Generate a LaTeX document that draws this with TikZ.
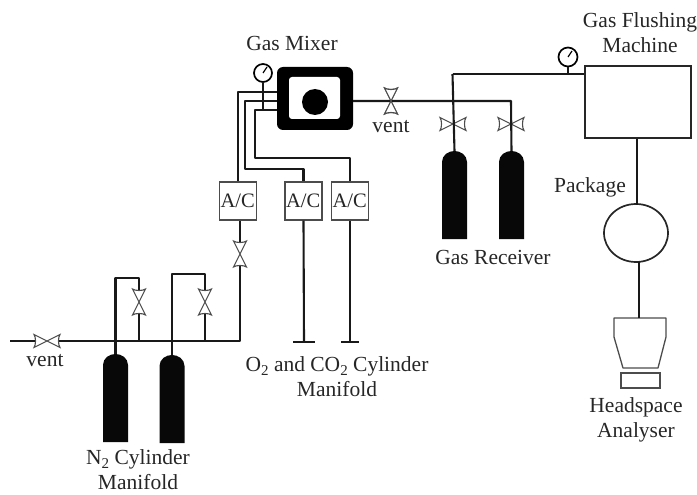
\documentclass[tikz,border=0pt]{standalone}
\usepackage{fontspec}
\setmainfont{Liberation Serif}
\usepackage{tikz}
\usetikzlibrary{shapes.geometric}
\newcommand{\subtwo}{\raisebox{-4pt}{\fontsize{15}{15}\selectfont 2}}
\tikzset{
 pipe/.style={line width=2.1pt,black!90,line join=round},
 lab/.style={inner sep=0pt,align=center,font=\fontsize{21.5}{25}\selectfont,text=black!85},
 acbox/.style={draw=black!70,line width=1.3pt,fill=white,minimum height=38pt,text width=35pt,inner xsep=1pt,inner ysep=0pt,align=left,font=\fontsize{20.5}{22}\selectfont,text=black!85},
 gauge/.style={circle,draw=black,line width=1.7pt,fill=white,minimum size=18pt,inner sep=0pt},
 valvev/.pic={\draw[line width=1.1pt,draw=black!70,fill=white](-6.5,-13)..controls(-4,-11)and(4,-11)..(6.5,-13)--(-6.5,13)..controls(-4,11)and(4,11)..(6.5,13)--cycle;
  \coordinate (-a) at (0,-12);\coordinate (-b) at (0,12);},
 valveh/.pic={\draw[line width=1.1pt,draw=black!70,fill=white](-13,-6.5)..controls(-11,-4)and(-11,4)..(-13,6.5)--(13,-6.5)..controls(11,-4)and(11,4)..(13,6.5)--cycle;
  \coordinate (-a) at (-12,0);\coordinate (-b) at (12,0);},
 cyl/.pic={\fill[black!97](-12.5,88)--(-12.5,11)..controls(-12.5,4)and(-6,0)..(0,0)..controls(6,0)and(12.5,4)..(12.5,11)--(12.5,88)--cycle;
  \coordinate (-top) at (0,0);},
}
\begin{document}
\begin{tikzpicture}[x=1pt,y=-1pt]
\useasboundingbox (0,0) rectangle (697,495);
% mixer
\node[fill=black,rounded corners=6pt,minimum width=76pt,minimum height=63pt,inner sep=0pt](mixer) at (315,98.5){};
\node[fill=white,rounded corners=3pt,minimum width=51pt,minimum height=42pt,inner sep=0pt](mixerin) at (314.5,98){};
\node[circle,fill=black,minimum size=26pt,inner sep=0pt](mixerdot) at (315,102){};
\node[lab](mixerlab) at (292,43){Gas Mixer};
\coordinate (m1) at (277,92);
\coordinate (m2) at (277,101);
\coordinate (m3) at (277,110);
\coordinate (m4) at (353,101);
% controllers
\node[acbox](ac1) at (238,201){A/C};
\node[acbox](ac2) at (303.5,201){A/C};
\node[acbox](ac3) at (350,201){A/C};
\draw[pipe](m1)-|(ac1.north);
\draw[pipe](m2)-|(245,169)-|(ac2.north);
\draw[pipe](m3)-|(255,158)-|(ac3.north);
\node[gauge](gauge1) at (263,73){};
\draw[line width=1.2pt](gauge1.center)--(267,67);
\draw[pipe](gauge1.south)--(263,110);
% N2 side
\coordinate (n0) at (10,341);
\coordinate (n1) at (240,341);
\pic (vac) at (240,254) {valvev};
\pic (vent1) at (47,341) {valveh};
\pic (vn1) at (139,302) {valvev};
\pic (vn2) at (205,302) {valvev};
\pic (cn1) at (115.5,354) {cyl};
\pic (cn2) at (172,355) {cyl};
\draw[pipe](ac1.south-|vac-a)--(vac-a);
\draw[pipe](vac-b)--(n1)--(vent1-b);
\draw[pipe](vent1-a)--(n0);
\draw[pipe](cn1-top)--(115.5,278)-|(vn1-a);
\draw[pipe](vn1-b)--(139,341);
\draw[pipe](cn2-top)--(172,274)-|(vn2-a);
\draw[pipe](vn2-b)--(205,341);
\node[lab](ventlab1) at (45,361){vent};
\node[lab](n2lab) at (138,470){N\subtwo{} Cylinder\\Manifold};
% O2 and CO2
\coordinate (t2) at (304,342);
\coordinate (t3) at (350,342);
\draw[pipe](ac2.south)--(t2);
\draw[pipe](ac3.south)--(t3);
\draw[pipe](t2)++(-11,0)--++(22,0);
\draw[pipe](t3)++(-9,0)--++(18,0);
\node[lab](o2lab) at (337,377){O\subtwo{} and CO\subtwo{} Cylinder\\Manifold};
% receiver
\pic (vvent) at (391,101) {valvev};
\pic (vr1) at (453,124) {valveh};
\pic (vr2) at (511,124) {valveh};
\pic (cr1) at (454.5,151) {cyl};
\pic (cr2) at (511.5,151) {cyl};
\node[draw=black!85,line width=1.7pt,minimum width=106pt,minimum height=72pt,inner sep=0pt](flush) at (638,102){};
\node[gauge,minimum size=19pt](gauge2) at (568,57){};
\draw[line width=1.2pt](gauge2.center)--(572,51);
\coordinate (r1) at (452.5,74);
\coordinate (r2) at (511,101);
\draw[pipe](m4)--(r2)--(cr2-top);
\draw[pipe](r1)--(cr1-top);
\draw[pipe](r1)--(flush.west|-r1);
\draw[pipe](gauge2.south)--(568,74);
\pic at (391,101) {valvev};
\node[lab](ventlab2) at (391,127){vent};
\node[lab](recvlab) at (493,257){Gas Receiver};
\node[lab](flushlab) at (640,33){Gas Flushing\\Machine};
% package and analyser
\node[ellipse,draw=black!85,line width=1.7pt,minimum width=64pt,minimum height=58pt,inner sep=0pt](pack) at (636,233){};
\node[lab](packlab) at (590,187){Package};
\coordinate (an0) at (639,318);
\draw[line width=1.3pt,black!70,line join=round](614,318)--(666,318)--(666,337)--(658,368)--(623,368)--(614,337)--cycle;
\node[draw=black!70,line width=1.3pt,minimum width=39pt,minimum height=15pt,inner sep=0pt](plate) at (640.5,380.5){};
\draw[pipe](flush.south-|637,0)--(637,205);
\draw[pipe](639,262)--(an0);
\node[lab](headlab) at (636,420){Headspace\\Analyser};
\end{tikzpicture}
\end{document}
